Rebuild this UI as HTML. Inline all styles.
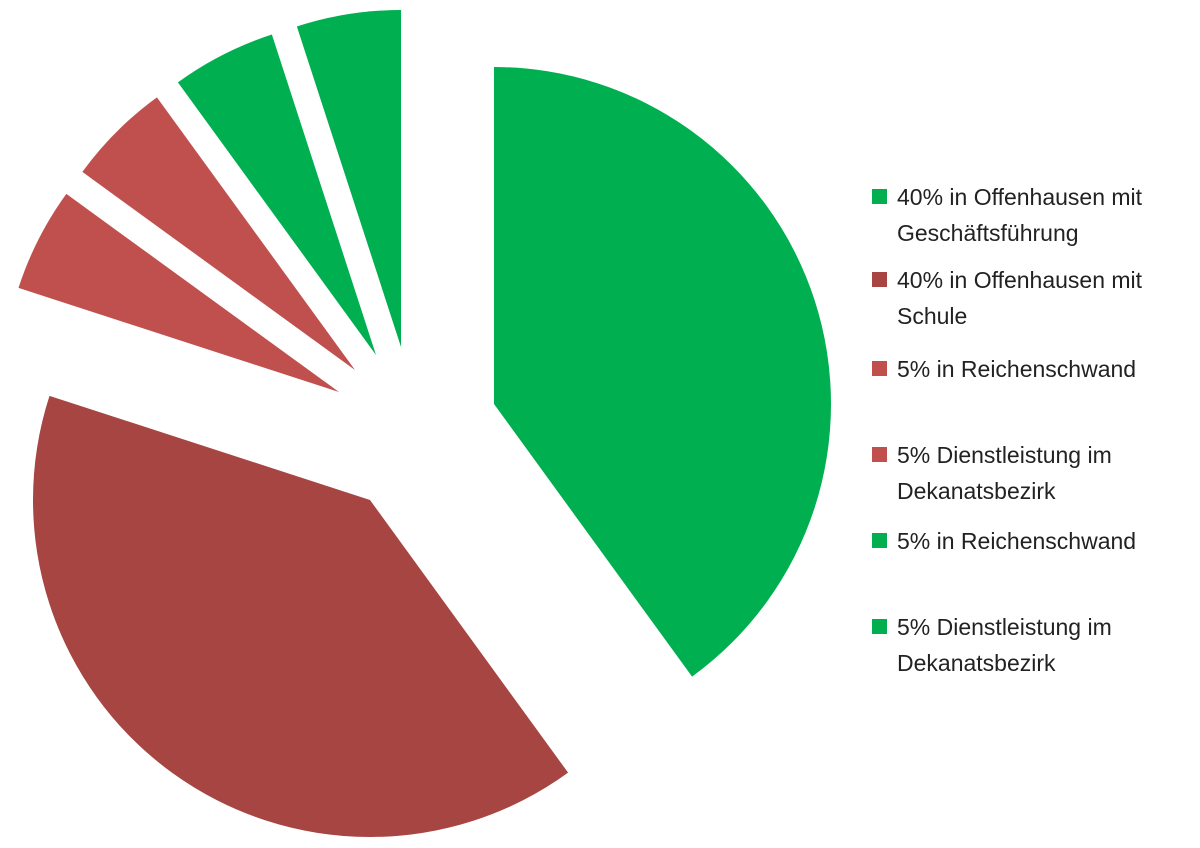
<!DOCTYPE html>
<html><head><meta charset="utf-8"><style>
html,body{margin:0;padding:0;background:#fff;}
svg{display:block;font-family:"Liberation Sans",sans-serif;}
</style></head><body>
<svg id="chart" width="1200" height="848" viewBox="0 0 1200 848">
<g id="slices"></g>
<g id="legend"></g>
</svg>
<script>
const labels = ["40% in Offenhausen mit|Geschäftsführung","40% in Offenhausen mit|Schule","5% in Reichenschwand","5% Dienstleistung im|Dekanatsbezirk","5% in Reichenschwand","5% Dienstleistung im|Dekanatsbezirk"];
const values = [40,40,5,5,5,5];
const colors = ["#00b050","#a64541","#c0504d","#c0504d","#00b050","#00b050"];
// slice apex positions (layout, exploded)
const apexX = [494,370,339,355,376,401];
const apexY = [404,500,392,370,355,347];
const R = 337;
const NS="http://www.w3.org/2000/svg";
const gS=document.getElementById('slices'), gL=document.getElementById('legend');
const total=values.reduce((a,b)=>a+b,0);
let a0=0;
values.forEach((v,i)=>{
  const a1=a0+v/total*2*Math.PI;
  const cx=apexX[i], cy=apexY[i];
  const x0=cx+R*Math.sin(a0), y0=cy-R*Math.cos(a0);
  const x1=cx+R*Math.sin(a1), y1=cy-R*Math.cos(a1);
  const large=(a1-a0)>Math.PI?1:0;
  const p=document.createElementNS(NS,'path');
  p.setAttribute('d',`M${cx},${cy}L${x0},${y0}A${R},${R} 0 ${large} 1 ${x1},${y1}Z`);
  p.setAttribute('fill',colors[i]);
  
  
  gS.appendChild(p);
  a0=a1;
});
const legY=[197,369-52,369,455,541,627];
const legTop=[197,280,369,455,541,627];
labels.forEach((l,i)=>{
  const y=legTop[i];
  const g=document.createElementNS(NS,'g');
  
  
  const r=document.createElementNS(NS,'rect');
  r.setAttribute('x',872);r.setAttribute('y',y-8);r.setAttribute('width',15);r.setAttribute('height',15);
  r.setAttribute('fill',colors[i]);
  
  
  g.appendChild(r);
  l.split('|').forEach((line,j)=>{
    const t=document.createElementNS(NS,'text');
    t.setAttribute('x',897);t.setAttribute('y',y+8+j*36);
    t.setAttribute('font-size','23');t.setAttribute('fill','#222');
    
    
    t.textContent=line;
    g.appendChild(t);
  });
  gL.appendChild(g);
});
</script>
</body></html>
